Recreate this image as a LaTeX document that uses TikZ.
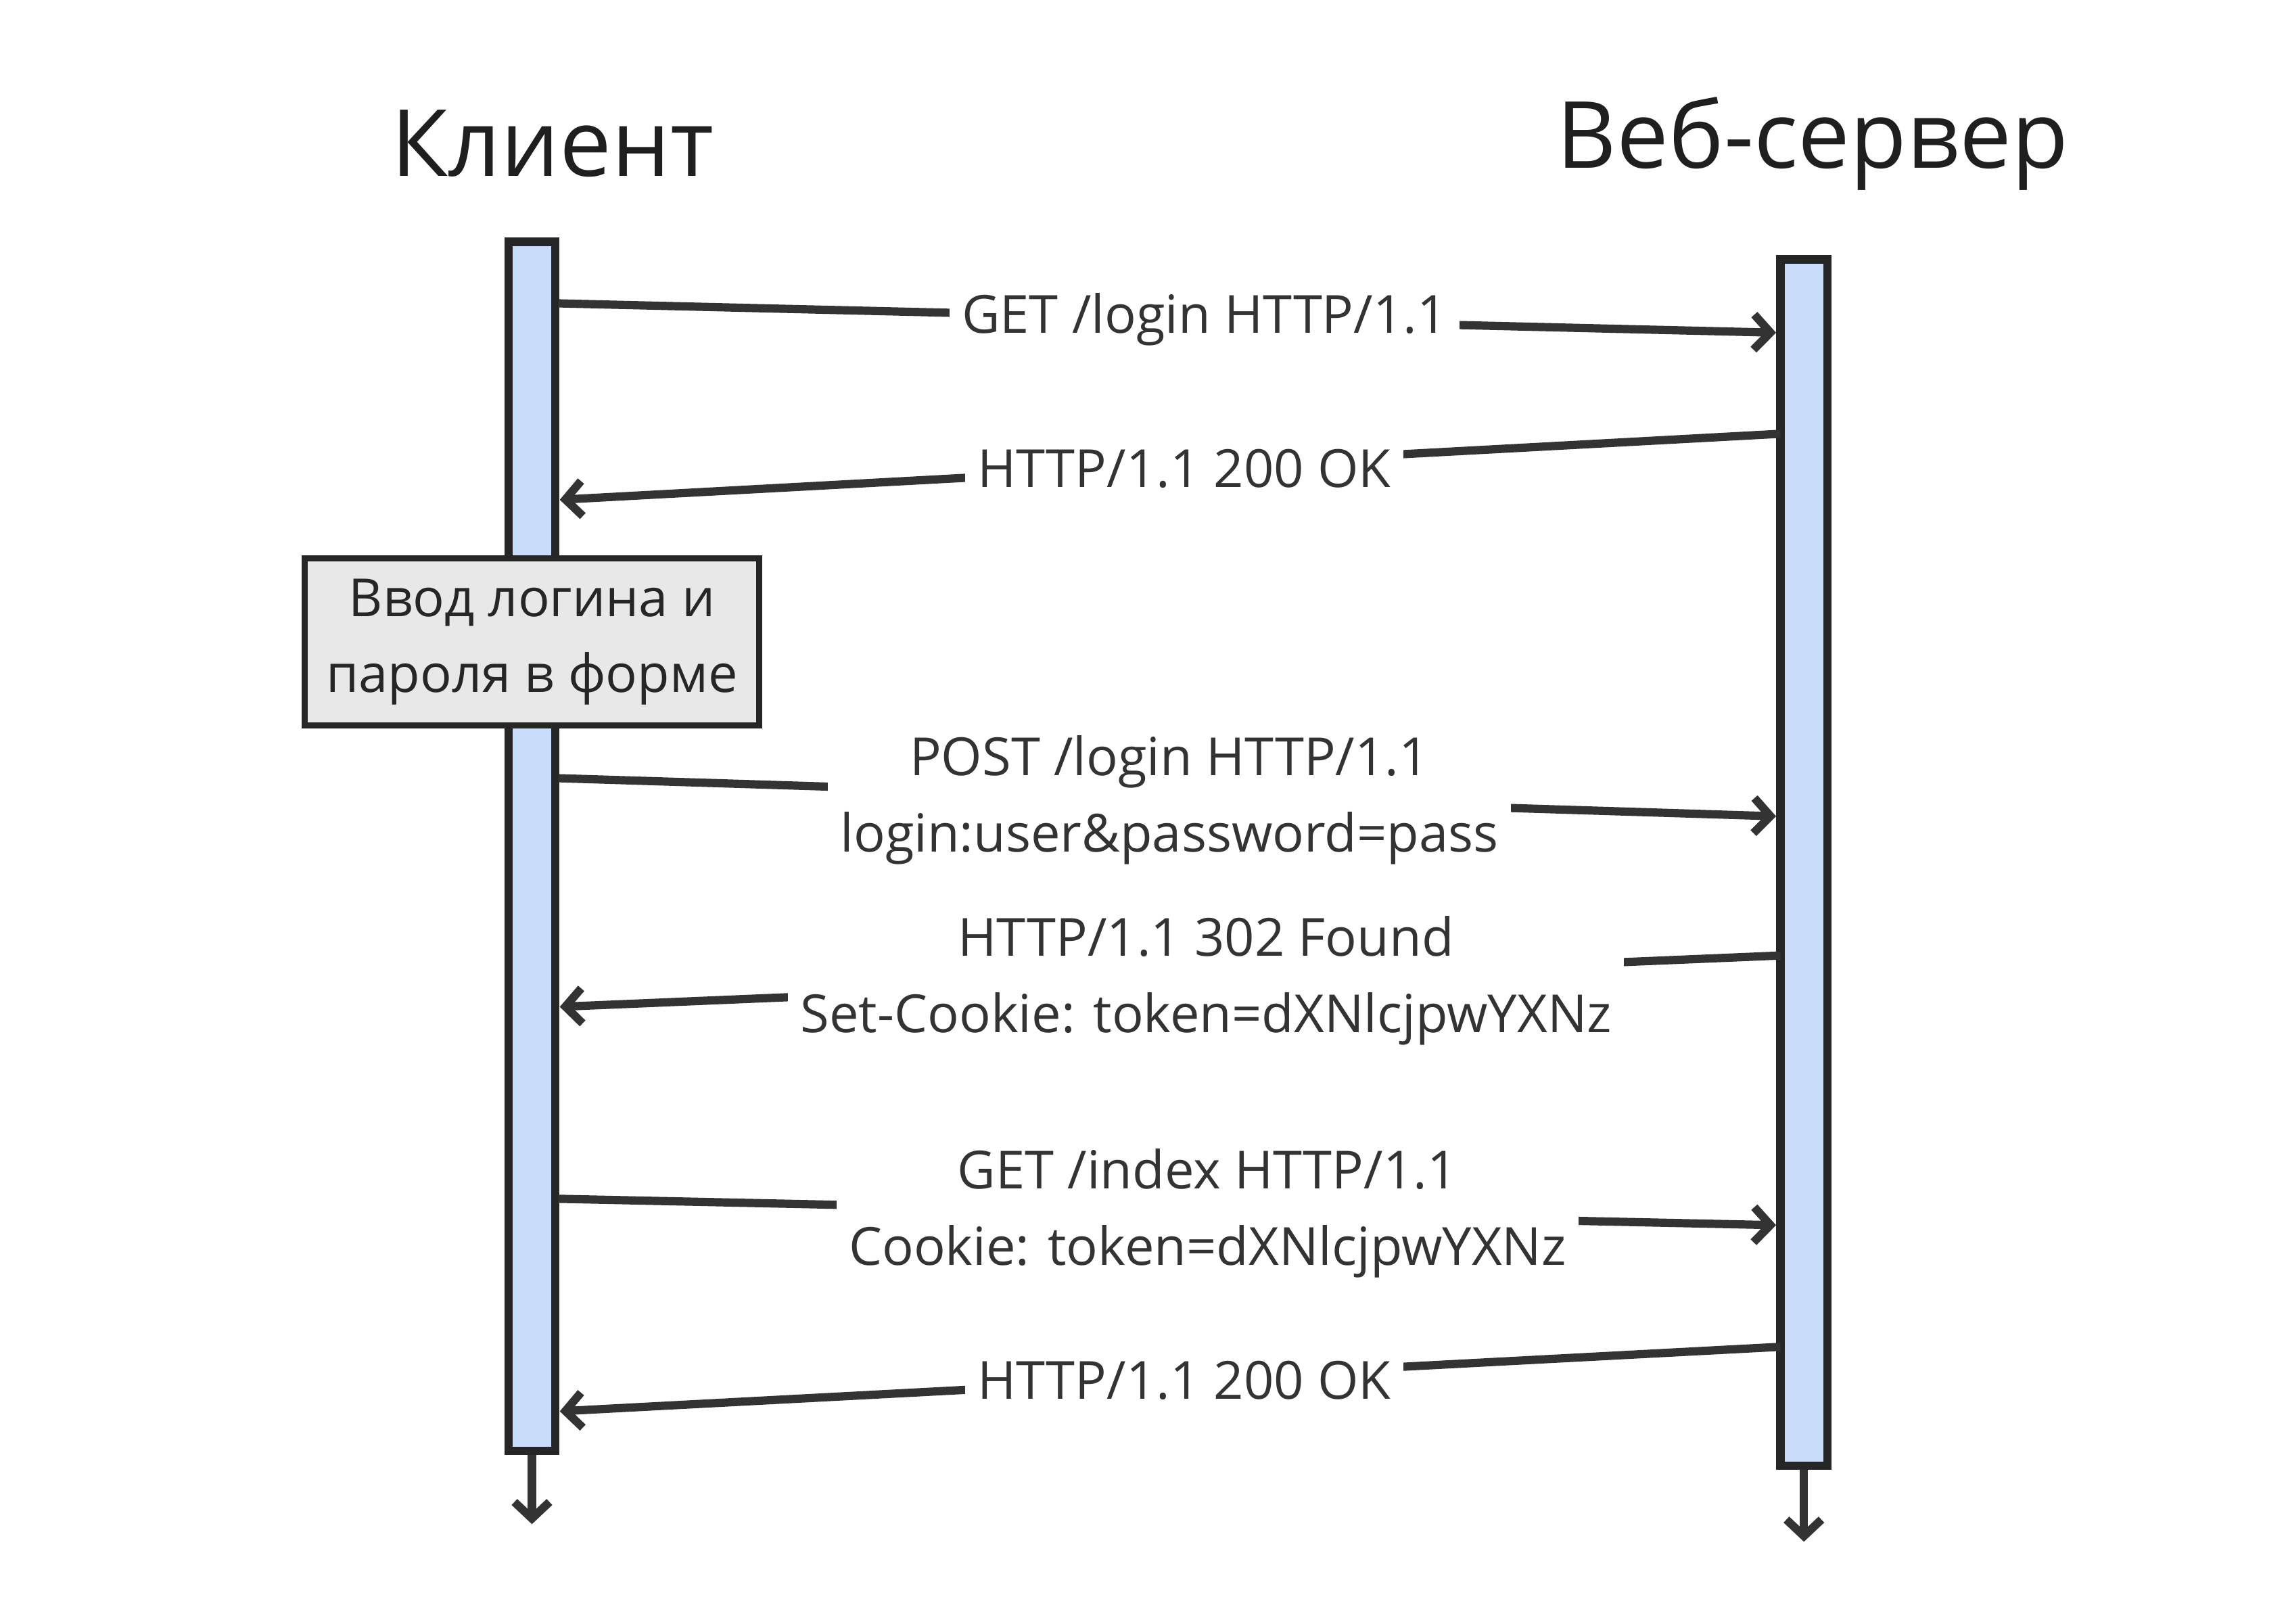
\documentclass[tikz,border=0pt]{standalone}
\usepackage{fontspec}
\setmainfont{Open Sans}
\usetikzlibrary{arrows.meta}
\definecolor{bar}{HTML}{C9DCFA}
\definecolor{ink}{HTML}{333333}
\definecolor{note}{HTML}{E8E8E8}
\begin{document}
\begin{tikzpicture}[x=0.05cm,y=-0.05cm,
  msg/.style={draw=ink,line width=8pt,-{Straight Barb[length=16pt,width=34pt,line width=8pt]}},
  lab/.style={fill=white,text=ink,font=\fontsize{51}{74}\selectfont,align=center,inner xsep=12pt,inner ysep=6pt},
  life/.style={draw=black!85,line width=8pt,fill=bar},
  ttl/.style={text=black!88,font=\fontsize{90}{100}\selectfont}]
\useasboundingbox (0,0) rectangle (1560,1108);
\node[ttl] (tc) at (377,98) {Клиент};
\node[ttl] (ts) at (1237,98) {Веб-сервер};
\coordinate (cb) at (363,990); \coordinate (ce) at (363,1040);
\coordinate (sb) at (1231,1000); \coordinate (se) at (1231,1052);
\draw[msg] (cb) -- (ce);
\draw[msg] (sb) -- (se);
\draw[life] (347,165) rectangle (379,990);
\draw[life] (1215,177) rectangle (1247,1000);
\coordinate (a1) at (381,207); \coordinate (b1) at (1212,227);
\coordinate (a2) at (1215,296); \coordinate (b2) at (382,341);
\coordinate (a4) at (381,531); \coordinate (b4) at (1212,557);
\coordinate (a5) at (1215,652); \coordinate (b5) at (382,687);
\coordinate (a6) at (381,818); \coordinate (b6) at (1212,836);
\coordinate (a7) at (1215,919); \coordinate (b7) at (382,963);
\draw[msg] (a1) -- (b1);
\draw[msg] (a2) -- (b2);
\draw[msg] (a4) -- (b4);
\draw[msg] (a5) -- (b5);
\draw[msg] (a6) -- (b6);
\draw[msg] (a7) -- (b7);
\node[lab] (l1) at (822,218) {GET /login HTTP/1.1};
\node[lab] (l2) at (808,320) {HTTP/1.1 200 OK};
\node[lab] (l4) at (798,546) {POST /login HTTP/1.1\\login:user\&password=pass};
\node[lab] (l5) at (823,669) {HTTP/1.1 302 Found\\Set-Cookie: token=dXNlcjpwYXNz};
\node[lab] (l6) at (824,828) {GET /index HTTP/1.1\\Cookie: token=dXNlcjpwYXNz};
\node[lab] (l7) at (808,942) {HTTP/1.1 200 OK};
\node[draw=black!85,line width=6pt,fill=note,minimum width=310*0.05cm,minimum height=114*0.05cm,align=center,text=black!85,font=\fontsize{51}{74}\selectfont] (n) at (363,438) {Ввод логина и\\пароля в форме};
\end{tikzpicture}
\end{document}
